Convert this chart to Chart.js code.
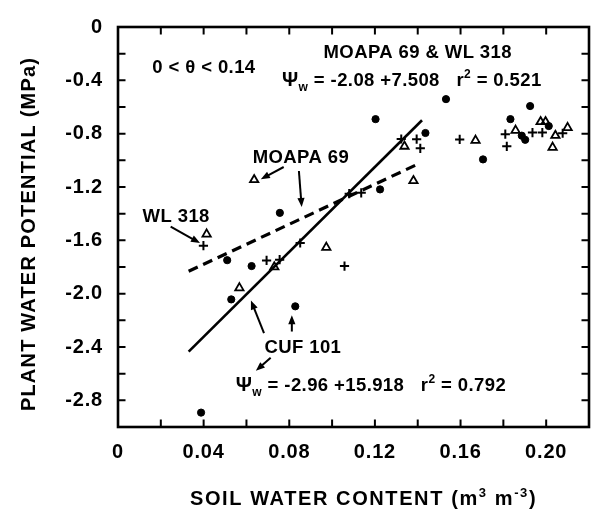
<!DOCTYPE html>
<html>
<head>
<meta charset="utf-8">
<script src="https://cdn.jsdelivr.net/npm/chart.js@4.4.1/dist/chart.umd.min.js"></script>
<style>
  html, body { margin: 0; padding: 0; background: #fff; overflow: hidden; width: 595px; height: 510px; }
  canvas { display: block; }
</style>
</head>
<body>
<canvas id="c" width="602" height="510" style="width:602px;height:510px"></canvas>
<script>
// Plant water potential (MPa) against soil water content (m3 m-3), three alfalfa cultivars

const cuf101Theta = [0.0388, 0.0510, 0.0529, 0.0624, 0.0756, 0.0828, 0.1203, 0.1224, 0.1436, 0.1532, 0.1705, 0.1833, 0.1886, 0.1902, 0.1925, 0.2012];
const cuf101Psi   = [-2.892, -1.749, -2.043, -1.793, -1.394, -2.095, -0.691, -1.218, -0.795, -0.541, -0.993, -0.691, -0.815, -0.846, -0.593, -0.743];

const moapa69Theta = [0.0414, 0.0567, 0.0636, 0.0730, 0.0973, 0.1338, 0.1380, 0.1670, 0.1857, 0.1974, 0.1997, 0.2030, 0.2043, 0.2100];
const moapa69Psi   = [-1.554, -1.957, -1.146, -1.800, -1.653, -0.895, -1.153, -0.851, -0.776, -0.711, -0.711, -0.903, -0.814, -0.755];

const wl318Theta = [0.0399, 0.0694, 0.0755, 0.0851, 0.1058, 0.1080, 0.1136, 0.1323, 0.1395, 0.1412, 0.1596, 0.1809, 0.1816, 0.1936, 0.1982, 0.2077];
const wl318Psi   = [-1.640, -1.751, -1.745, -1.620, -1.793, -1.250, -1.244, -0.840, -0.841, -0.910, -0.843, -0.804, -0.895, -0.792, -0.792, -0.797];

// Regression fits over 0 < theta < 0.14: [intercept, slope]
const cufFit = [-2.96, 15.918];          // CUF 101, r2 = 0.792
const cufFitRange = [0.033, 0.142];
const pooledFit = [-2.08, 7.508];        // MOAPA 69 & WL 318, r2 = 0.521
const pooledFitRange = [0.033, 0.141];

// Axis extents and tick spacing
const xRange = [0, 0.22];
const yRange = [-3.0, 0];
const xTickStep = 0.02;
const yTickStep = 0.2;

const FONT = '"Liberation Sans", Arial, sans-serif';

const toPoints = (xs, ys) => xs.map((x, i) => ({ x, y: ys[i] }));
const fitLine = (coef, range) => range.map(x => ({ x, y: coef[0] + coef[1] * x }));

// Text runs: [text, size, baseline shift]
function drawRuns(ctx, x, cy, runs, spacing) {
  ctx.save();
  ctx.textAlign = 'left';
  ctx.textBaseline = 'alphabetic';
  ctx.fillStyle = '#000';
  if ('letterSpacing' in ctx) ctx.letterSpacing = (spacing || 0) + 'px';
  const base = cy + 6.9;
  let cx = x;
  for (const [t, size, dy] of runs) {
    ctx.font = `bold ${size}px ${FONT}`;
    ctx.fillText(t, cx, base + (dy || 0));
    cx += ctx.measureText(t).width;
  }
  ctx.restore();
  return cx - x;
}
function runsWidth(ctx, runs, spacing) {
  ctx.save();
  if ('letterSpacing' in ctx) ctx.letterSpacing = (spacing || 0) + 'px';
  let w = 0;
  for (const [t, size] of runs) { ctx.font = `bold ${size}px ${FONT}`; w += ctx.measureText(t).width; }
  ctx.restore();
  return w;
}

function arrow(ctx, x1, y1, x2, y2) {
  const a = Math.atan2(y2 - y1, x2 - x1);
  const L = 9, W = 3.6;
  ctx.beginPath();
  ctx.moveTo(x1, y1);
  ctx.lineTo(x2 - Math.cos(a) * L * 0.8, y2 - Math.sin(a) * L * 0.8);
  ctx.stroke();
  ctx.beginPath();
  ctx.moveTo(x2, y2);
  ctx.lineTo(x2 - Math.cos(a) * L - Math.sin(a) * W, y2 - Math.sin(a) * L + Math.cos(a) * W);
  ctx.lineTo(x2 - Math.cos(a) * L + Math.sin(a) * W, y2 - Math.sin(a) * L - Math.cos(a) * W);
  ctx.closePath();
  ctx.fill();
}

// Slightly wider tracking for the tick labels
const tracking = {
  id: 'tracking',
  beforeDraw(chart) { if ('letterSpacing' in chart.ctx) chart.ctx.letterSpacing = '0.8px'; },
  beforeDatasetsDraw(chart) { if ('letterSpacing' in chart.ctx) chart.ctx.letterSpacing = '0px'; }
};

// Frame, inward tick marks, axis titles and in-plot annotations
const decorations = {
  id: 'decorations',
  afterDraw(chart) {
    const { ctx, chartArea: a, scales: { x: xs, y: ys } } = chart;
    const X = v => xs.getPixelForValue(v);
    const Y = v => ys.getPixelForValue(v);

    ctx.save();
    ctx.strokeStyle = '#000';
    ctx.fillStyle = '#000';
    ctx.lineWidth = 2.6;
    ctx.lineCap = 'square';
    ctx.strokeRect(a.left, a.top, a.right - a.left, a.bottom - a.top);

    // inward ticks on all four sides
    ctx.lineWidth = 2;
    ctx.lineCap = 'butt';
    const T = 7.5;
    ctx.beginPath();
    xs.ticks.forEach(t => {
      if (t.value <= xRange[0] + 1e-9 || t.value >= xRange[1] - 1e-9) return;
      const px = X(t.value);
      ctx.moveTo(px, a.bottom); ctx.lineTo(px, a.bottom - T);
      ctx.moveTo(px, a.top); ctx.lineTo(px, a.top + T);
    });
    ys.ticks.forEach(t => {
      if (t.value <= yRange[0] + 1e-9 || t.value >= yRange[1] - 1e-9) return;
      const py = Y(t.value);
      ctx.moveTo(a.left, py); ctx.lineTo(a.left + T, py);
      ctx.moveTo(a.right, py); ctx.lineTo(a.right - T, py);
    });
    ctx.stroke();

    // axis titles
    const xTitle = [['SOIL WATER CONTENT (m', 20, 0], ['3', 13, -8], [' m', 20, 0], ['-3', 13, -8], [')', 20, 0]];
    drawRuns(ctx, 190, 498, xTitle, 1.6);

    const yTitle = [['PLANT WATER POTENTIAL (MPa)', 20, 0]];
    const yw = runsWidth(ctx, yTitle, 1.2);
    ctx.save();
    ctx.translate(28, 234);
    ctx.rotate(-Math.PI / 2);
    drawRuns(ctx, -yw / 2, 0, yTitle, 1.2);
    ctx.restore();

    // annotations placed in data units
    const S = 18.5;
    const texts = [
      [0.0160, -0.291, [['0 < θ < 0.14', S, 0]]],
      [0.0960, -0.180, [['MOAPA 69 & WL 318', S, 0]]],
      [0.0766, -0.394, [['Ψ', 20, 0], ['w', 12, 5], [' = -2.08 +7.508   r', S, 0], ['2', 12, -8], [' = 0.521', S, 0]]],
      [0.0629, -0.969, [['MOAPA 69', S, 0]]],
      [0.0115, -1.412, [['WL 318', S, 0]]],
      [0.0684, -2.392, [['CUF 101', S, 0]]],
      [0.0550, -2.680, [['Ψ', 20, 0], ['w', 12, 5], [' = -2.96 +15.918   r', S, 0], ['2', 12, -8], [' = 0.792', S, 0]]]
    ];
    texts.forEach(([tx, ty, runs]) => drawRuns(ctx, X(tx), Y(ty), runs, 0.4));

    ctx.lineWidth = 2;
    const arrows = [
      [0.0774, -1.050, 0.0667, -1.141],
      [0.0845, -1.080, 0.0858, -1.350],
      [0.0246, -1.498, 0.0383, -1.620],
      [0.0682, -2.296, 0.0621, -2.051],
      [0.0812, -2.284, 0.0812, -2.161],
      [0.0713, -2.481, 0.0644, -2.579]
    ];
    arrows.forEach(([x1, y1, x2, y2]) => arrow(ctx, X(x1), Y(y1), X(x2), Y(y2)));
    ctx.restore();
  }
};

const tickFont = { family: FONT, size: 20, weight: 'bold' };

new Chart(document.getElementById('c'), {
  type: 'scatter',
  data: {
    datasets: [
      {
        label: 'CUF 101 fit',
        data: fitLine(cufFit, cufFitRange),
        showLine: true, borderColor: '#000', borderWidth: 2.6, pointRadius: 0, fill: false
      },
      {
        label: 'MOAPA 69 & WL 318 fit',
        data: fitLine(pooledFit, pooledFitRange),
        showLine: true, borderColor: '#000', borderWidth: 3.2, borderDash: [10, 6],
        borderCapStyle: 'butt', pointRadius: 0, fill: false
      },
      {
        label: 'CUF 101',
        data: toPoints(cuf101Theta, cuf101Psi),
        pointStyle: 'circle', pointRadius: 3.6, backgroundColor: '#000', borderColor: '#000', borderWidth: 1
      },
      {
        label: 'MOAPA 69',
        data: toPoints(moapa69Theta, moapa69Psi),
        pointStyle: 'triangle', pointRadius: 4.8, backgroundColor: 'rgba(0,0,0,0)', borderColor: '#000', borderWidth: 1.8
      },
      {
        label: 'WL 318',
        data: toPoints(wl318Theta, wl318Psi),
        pointStyle: 'cross', pointRadius: 4.6, borderColor: '#000', borderWidth: 2
      }
    ]
  },
  options: {
    responsive: false,
    animation: false,
    devicePixelRatio: 1,
    layout: { padding: { top: 17, right: 5, bottom: 0, left: 0 } },
    plugins: { legend: { display: false }, tooltip: { enabled: false } },
    scales: {
      x: {
        type: 'linear', min: xRange[0], max: xRange[1],
        grid: { display: false, drawTicks: false },
        border: { display: false },
        afterFit: s => { s.height = 83; },
        ticks: {
          stepSize: xTickStep, autoSkip: false, maxRotation: 0, padding: 13,
          color: '#000', font: tickFont,
          callback: v => {
            const k = Math.round(v * 100);
            if (k % 4 !== 0 || k > 20) return '';
            return k === 0 ? '0' : (k / 100).toFixed(2);
          }
        }
      },
      y: {
        type: 'linear', min: yRange[0], max: yRange[1],
        grid: { display: false, drawTicks: false },
        border: { display: false },
        afterFit: s => { s.width = 118; },
        ticks: {
          stepSize: yTickStep, autoSkip: false, padding: 15,
          color: '#000', font: tickFont,
          callback: v => {
            const k = Math.round(v * 10);
            if (k % 4 !== 0) return '';
            return k === 0 ? '0' : (k / 10).toFixed(1);
          }
        }
      }
    }
  },
  plugins: [tracking, decorations]
});
</script>
</body>
</html>
